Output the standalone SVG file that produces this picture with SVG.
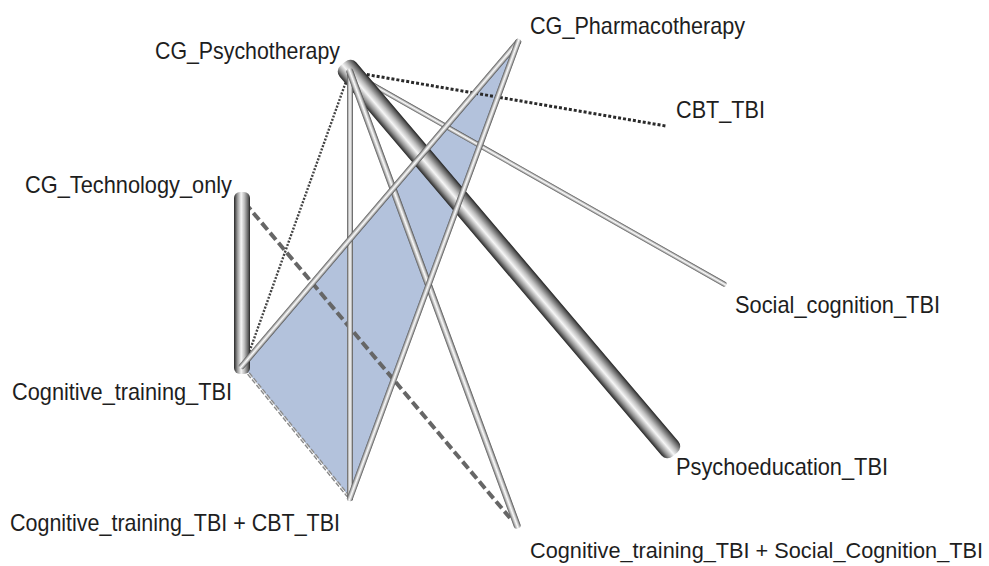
<svg xmlns="http://www.w3.org/2000/svg" width="989" height="566" viewBox="0 0 989 566">
<defs>
<linearGradient id="tubeDark" x1="0" y1="0" x2="0" y2="1">
<stop offset="0" stop-color="#222"/>
<stop offset="0.1" stop-color="#5a5a5a"/>
<stop offset="0.35" stop-color="#bdbdbd"/>
<stop offset="0.55" stop-color="#f6f6f6"/>
<stop offset="0.8" stop-color="#929292"/>
<stop offset="1" stop-color="#262626"/>
</linearGradient>
<linearGradient id="tubeLight" x1="0" y1="0" x2="0" y2="1">
<stop offset="0" stop-color="#4a4a4a"/>
<stop offset="0.25" stop-color="#bdbdbd"/>
<stop offset="0.5" stop-color="#fbfbfb"/>
<stop offset="0.75" stop-color="#bcbcbc"/>
<stop offset="1" stop-color="#555"/>
</linearGradient>
</defs>
<style>
.lbl{font-family:"Liberation Sans",Arial,sans-serif;font-size:24px;fill:#1e1e1e}
.dk{fill:url(#tubeDark)}
.lt{fill:url(#tubeLight)}
.dash1{stroke:#2a2a2a;stroke-width:3;stroke-dasharray:3 2;fill:none}
.dot1{stroke:#444;stroke-width:2.4;stroke-dasharray:2 1.5;fill:none}
.dash2{stroke:#666;stroke-width:4;stroke-dasharray:9 4;fill:none}
.dash3{stroke:#8a8a8a;stroke-width:3.5;stroke-dasharray:5 2;fill:none}
.wc{stroke:#f4f4f4;stroke-width:1;fill:none}
</style>
<polygon id="triangle" points="518,42 242,366 350,498" fill="#b3c2dc"/>
<g id="connectors">
<line class="dash3" x1="244" y1="368" x2="348" y2="496"/>
<line class="wc" x1="244" y1="368" x2="348" y2="496"/>
<line class="dash2" x1="245" y1="203" x2="510" y2="518"/>
<line class="dot1" x1="348" y1="76" x2="245" y2="364"/>
<line class="dash1" x1="352" y1="72" x2="666" y2="126"/>
<g transform="translate(242,200) rotate(90)"><rect class="dk" x="-8" y="-8" width="182" height="16" rx="6"/></g>
<g transform="translate(350,72) rotate(29.55)"><rect class="lt" x="-2.5" y="-2.5" width="434.9" height="5" rx="2"/></g>
<g transform="translate(350,72) rotate(49.63)"><rect class="dk" x="-11" y="-11" width="512.9" height="22" rx="8"/></g>
<g transform="translate(350,72) rotate(90)"><rect class="lt" x="-3" y="-3" width="432" height="6" rx="2.5"/></g>
<g transform="translate(350,72) rotate(69.77)"><rect class="lt" x="-3.5" y="-3.5" width="489.8" height="7" rx="3"/></g>
<g transform="translate(518,42) rotate(130.43)"><rect class="lt" x="-3" y="-3" width="431.6" height="6" rx="2.5"/></g>
<g transform="translate(518,42) rotate(110.22)"><rect class="lt" x="-3" y="-3" width="492" height="6" rx="2.5"/></g>
</g>
<g id="node-cg-psychotherapy"><text class="lbl" x="155" y="59" textLength="185" lengthAdjust="spacingAndGlyphs">CG_Psychotherapy</text></g>
<g id="node-cg-pharmacotherapy"><text class="lbl" x="530" y="34" textLength="215" lengthAdjust="spacingAndGlyphs">CG_Pharmacotherapy</text></g>
<g id="node-cbt-tbi"><text class="lbl" x="676" y="118" textLength="89" lengthAdjust="spacingAndGlyphs">CBT_TBI</text></g>
<g id="node-cg-technology-only"><text class="lbl" x="25" y="193" textLength="207" lengthAdjust="spacingAndGlyphs">CG_Technology_only</text></g>
<g id="node-social-cognition-tbi"><text class="lbl" x="735" y="313" textLength="205" lengthAdjust="spacingAndGlyphs">Social_cognition_TBI</text></g>
<g id="node-cognitive-training-tbi"><text class="lbl" x="12" y="400" textLength="220" lengthAdjust="spacingAndGlyphs">Cognitive_training_TBI</text></g>
<g id="node-psychoeducation-tbi"><text class="lbl" x="676" y="475" textLength="212" lengthAdjust="spacingAndGlyphs">Psychoeducation_TBI</text></g>
<g id="node-ct-cbt"><text class="lbl" x="10" y="531" textLength="330" lengthAdjust="spacingAndGlyphs">Cognitive_training_TBI + CBT_TBI</text></g>
<g id="node-ct-sc"><text class="lbl" x="530" y="558" textLength="453" lengthAdjust="spacingAndGlyphs" style="font-size:22px">Cognitive_training_TBI + Social_Cognition_TBI</text></g>
</svg>
